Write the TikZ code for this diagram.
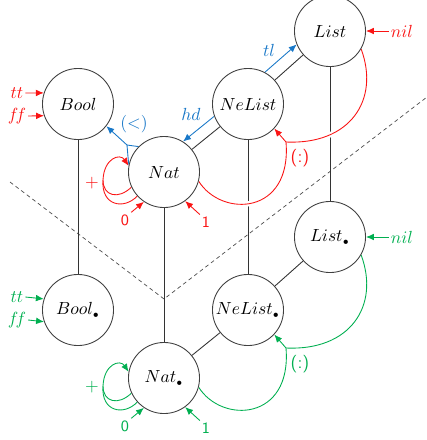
\documentclass[tikz,border=0pt]{standalone}
\usetikzlibrary{arrows.meta}
\pgfdeclarelayer{bg}
\pgfsetlayers{bg,main}
\definecolor{cred}{RGB}{250,20,20}
\definecolor{cblue}{RGB}{25,120,200}
\definecolor{cgreen}{RGB}{0,175,80}
\tikzset{
 obj/.style={circle, draw=black!75, line width=0.5pt, fill=white, minimum size=40.5pt, inner sep=0pt},
 conn/.style={draw=black!80, line width=0.5pt},
 arr/.style={line width=0.5pt, -{Latex[length=4.5pt,width=3.8pt]}},
 plain/.style={line width=0.5pt},
 under/.style={draw=white, line width=3pt},
 lbl/.style={inner sep=1pt},
 num/.style={inner sep=1pt, font=\sffamily\small},
 sep/.style={draw=black!70, line width=0.4pt, dash pattern=on 2.2pt off 1.8pt}
}
\begin{document}
\begin{tikzpicture}[x=0.57pt,y=-0.57pt]
\useasboundingbox (0,0) rectangle (427,440);
% objects
\node[obj] (Bool) at (78,104) {$Bool$};
\node[obj] (Nat) at (164,172) {$Nat$};
\node[obj] (NeList) at (248,104) {$NeList$};
\node[obj] (List) at (330,31) {$List$};
\node[obj] (Bools) at (78,310) {$Bool_{\scriptscriptstyle\bullet}$};
\node[obj] (Nats) at (164,378) {$Nat_{\scriptscriptstyle\bullet}$};
\node[obj] (NeLists) at (248,310) {$NeList_{\scriptscriptstyle\bullet}$};
\node[obj] (Lists) at (330,237) {$List_{\scriptscriptstyle\bullet}$};
% merge points
\coordinate (mB) at (127,145);
\coordinate (mL) at (103,180);
\coordinate (mR) at (286,142);
\coordinate (mLg) at (103,386);
\coordinate (mG) at (286,348);
% separator
\coordinate (d1) at (10,182);
\coordinate (d2) at (164,299);
\coordinate (d3) at (427,97);
\begin{pgfonlayer}{bg}
\draw[sep] (d1) -- (d2) -- (d3);
\draw[conn] (Bool) -- (Bools);
\draw[conn] (Nat) -- (Nats);
\draw[conn] (NeList) -- (NeLists);
\draw[conn] (List) -- (Lists);
\draw[conn] (Nat) -- (NeList);
\draw[conn] (NeList) -- (List);
\draw[conn] (Nats) -- (NeLists);
\draw[conn] (NeLists) -- (Lists);
% white underlays at crossings
\path[under] (List.-30) .. controls (380,100) and (350,145) .. (mR);
\path[under] (Nat.-15) .. controls (222,218) and (292,215) .. (mR);
% red (:)
\draw[plain,cred] (List.-30) .. controls (380,100) and (350,145) .. (mR);
\draw[plain,cred] (Nat.-15) .. controls (222,218) and (292,215) .. (mR);
\draw[arr,cred] (mR) -- (NeList.-43);
% green (:)
\draw[plain,cgreen] (Lists.-30) .. controls (380,306) and (350,351) .. (mG);
\draw[plain,cgreen] (Nats.-15) .. controls (222,424) and (292,421) .. (mG);
\draw[arr,cgreen] (mG) -- (NeLists.-43);
% red +
\draw[plain,cred] (Nat.205) .. controls (118,200) and (103,196) .. (mL);
\draw[plain,cred] (Nat.222) .. controls (124,210) and (101,206) .. (mL);
\draw[arr,cred] (mL) .. controls (104,158) and (120,153) .. (Nat.170);
% green +
\draw[plain,cgreen] (Nats.205) .. controls (118,406) and (103,402) .. (mLg);
\draw[plain,cgreen] (Nats.222) .. controls (124,416) and (101,412) .. (mLg);
\draw[arr,cgreen] (mLg) .. controls (104,364) and (120,359) .. (Nats.170);
% blue (<)
\draw[plain,cblue] (Nat.168) .. controls (128,157) .. (mB);
\draw[plain,cblue] (Nat.135) .. controls (134,146) .. (mB);
\draw[arr,cblue] (mB) -- (Bool.-38);
% hd, tl
\draw[arr,cblue] (NeList.200) -- (Nat.58);
\draw[arr,cblue] (NeList.62) -- (List.202);
\end{pgfonlayer}
% labels
\node[lbl,text=cblue] (hdl) at (191,114) {$hd$};
\node[lbl,text=cblue] (tll) at (269,50) {$tl$};
\node[lbl,text=cblue] (ltl) at (134,124) {$({<})$};
\node[lbl,text=cred,font=\sffamily] (consr) at (300,158) {(:)};
\node[lbl,text=cgreen,font=\sffamily] (consg) at (300,364) {(:)};
\node[lbl,text=cred,font=\sffamily] (plusr) at (92,183) {+};
\node[lbl,text=cgreen,font=\sffamily] (plusg) at (92,387) {+};
% red constants
\node[lbl,text=cred] (tt) at (17,93) {$tt$};
\node[lbl,text=cred] (ff) at (17,116) {$f\!f$};
\draw[arr,cred] (tt.east) -- (Bool.162);
\draw[arr,cred] (ff.east) -- (Bool.199);
\node[lbl,text=cred] (nil) at (402,31) {$nil$};
\draw[arr,cred] (nil.west) -- (List.east);
\node[num,text=cred] (z0) at (125,220) {0};
\node[num,text=cred] (o1) at (206,222) {1};
\draw[arr,cred] (z0.north east) -- (Nat.236);
\draw[arr,cred] (o1.north west) -- (Nat.-54);
% green constants
\node[lbl,text=cgreen] (tts) at (17,297) {$tt$};
\node[lbl,text=cgreen] (ffs) at (17,320) {$f\!f$};
\draw[arr,cgreen] (tts.east) -- (Bools.162);
\draw[arr,cgreen] (ffs.east) -- (Bools.199);
\node[lbl,text=cgreen] (nils) at (402,237) {$nil$};
\draw[arr,cgreen] (nils.west) -- (Lists.east);
\node[num,text=cgreen] (z0s) at (125,426) {0};
\node[num,text=cgreen] (o1s) at (206,428) {1};
\draw[arr,cgreen] (z0s.north east) -- (Nats.236);
\draw[arr,cgreen] (o1s.north west) -- (Nats.-54);
\end{tikzpicture}
\end{document}
